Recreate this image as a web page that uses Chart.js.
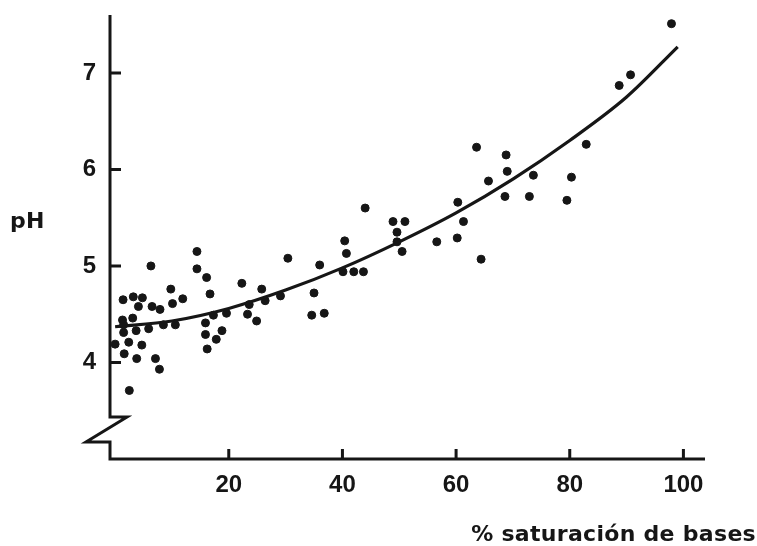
<!DOCTYPE html>
<html>
<head>
<meta charset="utf-8">
<script src="https://cdn.jsdelivr.net/npm/chart.js@4/dist/chart.umd.min.js"></script>
<style>
  html, body { margin: 0; padding: 0; background: #fff; }
  #wrap { width: 757px; height: 546px; }
</style>
</head>
<body>
<div id="wrap"><canvas id="phChart" width="757" height="546"></canvas></div>
<script>
// % base saturation vs pH, scatter plus fitted curve
const satX = [14.4, 6.3, 30.4, 14.4, 16.1, 16.7, 22.3, 25.8, 9.8, 11.9, 10.1, 1.4, 3.2, 4.8, 4.1, 6.5, 7.9,
    3.1, 1.3, 1.5, 1.5, 0.0, 2.4, 3.7, 5.9, 4.7, 1.6, 3.8, 7.1, 7.8, 2.5, 8.5, 10.6, 15.9, 15.9, 16.2,
    17.8, 18.8, 17.3, 19.6, 23.3, 24.9, 23.6, 26.4, 29.1, 34.6, 36.0, 35.0, 36.8, 40.4, 40.7, 40.1,
    42.0, 43.7, 44.0, 48.9, 51.0, 49.6, 49.6, 50.5, 56.6, 60.2, 61.3, 60.3, 64.4, 63.6, 65.7, 68.8,
    69.0, 68.6, 72.9, 73.6, 79.5, 80.3, 82.9, 88.7, 90.7, 97.9];
const satPH = [5.15, 5.00, 5.08, 4.97, 4.88, 4.71, 4.82, 4.76, 4.76, 4.66, 4.61, 4.65, 4.68, 4.67, 4.58, 4.58, 4.55,
    4.46, 4.44, 4.39, 4.31, 4.19, 4.21, 4.33, 4.35, 4.18, 4.09, 4.04, 4.04, 3.93, 3.71, 4.39, 4.39, 4.41, 4.29, 4.14,
    4.24, 4.33, 4.49, 4.51, 4.50, 4.43, 4.60, 4.64, 4.69, 4.49, 5.01, 4.72, 4.51, 5.26, 5.13, 4.94,
    4.94, 4.94, 5.60, 5.46, 5.46, 5.35, 5.25, 5.15, 5.25, 5.29, 5.46, 5.66, 5.07, 6.23, 5.88, 6.15,
    5.98, 5.72, 5.72, 5.94, 5.68, 5.92, 6.26, 6.87, 6.98, 7.51];

const curveX = [0, 10, 20, 30, 40, 50, 60, 70, 80, 90, 99];
const curvePH = [4.37, 4.43, 4.56, 4.75, 4.98, 5.25, 5.55, 5.90, 6.30, 6.75, 7.27];

const xTicks = [20, 40, 60, 80, 100];
const yTicks = [4, 5, 6, 7];

const ink = "#161616";
const tickFont = { family: "'Liberation Sans', Arial, sans-serif", size: 24, weight: "bold" };
const titleFont = "bold 22px 'DejaVu Sans', sans-serif";

// axis lines with the broken y axis, inner ticks and the two axis titles
const handAxes = {
    id: "handAxes",
    beforeDatasetsDraw(chart) {
        const ctx = chart.ctx;
        const xs = chart.scales.x, ys = chart.scales.y;
        const x0 = xs.left, yb = ys.bottom;
        const zTop = ys.getPixelForValue(3.435);
        const zBot = ys.getPixelForValue(3.176);

        ctx.save();
        ctx.strokeStyle = ink;
        ctx.lineWidth = 3;
        ctx.lineJoin = "miter";
        ctx.beginPath();
        ctx.moveTo(x0, ys.top);
        ctx.lineTo(x0, zTop);
        ctx.lineTo(x0 + 17, zTop);
        ctx.lineTo(x0 - 24, zBot);
        ctx.lineTo(x0, zBot);
        ctx.lineTo(x0, yb);
        ctx.lineTo(xs.right, yb);
        ctx.stroke();

        ctx.beginPath();
        yTicks.forEach(v => {
            const p = ys.getPixelForValue(v);
            ctx.moveTo(x0, p);
            ctx.lineTo(x0 + 11, p);
        });
        xTicks.forEach(v => {
            const p = xs.getPixelForValue(v);
            ctx.moveTo(p, yb);
            ctx.lineTo(p, yb - 10);
        });
        ctx.stroke();
        ctx.restore();
    },
    afterDraw(chart) {
        const ctx = chart.ctx;
        ctx.save();
        ctx.fillStyle = ink;
        ctx.font = titleFont;
        ctx.letterSpacing = "0.3px";
        ctx.textBaseline = "alphabetic";
        ctx.textAlign = "left";
        ctx.fillText("pH", 10, 228);
        ctx.textAlign = "right";
        ctx.fillText("% saturación de bases", 756, 541);
        ctx.restore();
    }
};

function initChart() {
    const ctx = document.getElementById("phChart").getContext("2d");

    new Chart(ctx, {
        type: "scatter",
        data: {
            datasets: [{
                label: "muestras",
                data: satX.map((x, i) => ({ x: x, y: satPH[i] })),
                backgroundColor: ink,
                borderColor: ink,
                pointRadius: 4,
                pointHoverRadius: 4,
                clip: false
            }, {
                label: "ajuste",
                type: "line",
                data: curveX.map((x, i) => ({ x: x, y: curvePH[i] })),
                borderColor: ink,
                borderWidth: 3.2,
                pointRadius: 0,
                fill: false,
                cubicInterpolationMode: "monotone",
                clip: false
            }]
        },
        options: {
            responsive: false,
            animation: false,
            layout: { padding: { top: 15, right: 52, left: 0, bottom: 0 } },
            plugins: {
                legend: { display: false },
                tooltip: { enabled: false }
            },
            scales: {
                x: {
                    type: "linear",
                    min: -0.9,
                    max: 103.8,
                    afterBuildTicks: s => { s.ticks = xTicks.map(v => ({ value: v })); },
                    afterFit: s => {
                        s.height = 87;
                        s.paddingLeft = 0;
                        s.paddingRight = 0;
                    },
                    grid: { display: false, drawTicks: false },
                    border: { display: false },
                    ticks: { color: ink, font: tickFont, padding: 12, maxRotation: 0 }
                },
                y: {
                    type: "linear",
                    min: 3.0,
                    max: 7.6,
                    afterBuildTicks: s => { s.ticks = yTicks.map(v => ({ value: v })); },
                    afterFit: s => {
                        s.width = 110;
                        s.paddingTop = 0;
                        s.paddingBottom = 0;
                    },
                    grid: { display: false, drawTicks: false },
                    border: { display: false },
                    ticks: { color: ink, font: tickFont, padding: 14 }
                }
            }
        },
        plugins: [handAxes]
    });
}

initChart();
</script>
</body>
</html>
